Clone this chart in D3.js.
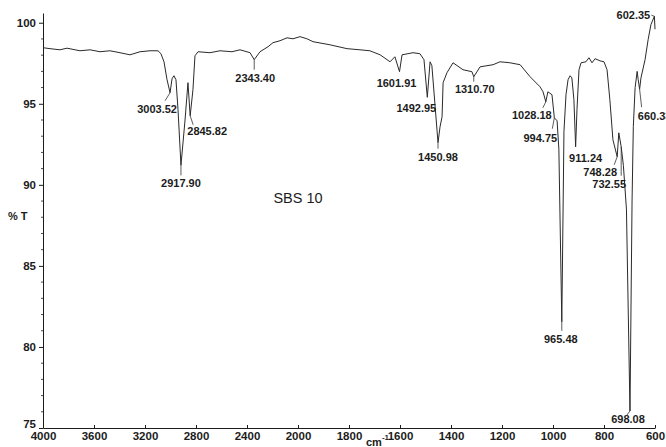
<!DOCTYPE html>
<html>
<head>
<meta charset="utf-8">
<script src="https://cdn.jsdelivr.net/npm/d3@7/dist/d3.min.js"></script>
<style>
  html, body { margin: 0; padding: 0; background: #fff; }
  svg { display: block; }
  text { font-family: "Liberation Sans", Arial, sans-serif; fill: #1c1c1c; }
</style>
</head>
<body>
<svg id="chart" width="666" height="447"></svg>
<script>
// FT-IR transmittance spectrum of sample SBS 10

// wavenumber (cm-1) and transmittance (%T), read from high to low wavenumber
const wavenumbers = [
  4000, 3945, 3867, 3812, 3710, 3631, 3553, 3475, 3396, 3318, 3239, 3161, 3098, 3075, 3051, 3027,
  3003.52, 2988, 2973, 2957, 2941, 2917.90, 2886, 2863, 2845.82, 2824, 2808, 2784, 2690, 2612,
  2518, 2455, 2376, 2343.40, 2298, 2235, 2196, 2141, 2086, 2039, 1992, 1965, 1941, 1875, 1808,
  1757, 1718, 1678, 1639, 1620, 1601.91, 1592, 1549, 1522, 1506, 1492.95, 1482, 1475, 1450.98,
  1443, 1435, 1431, 1416, 1392, 1353, 1318, 1310.70, 1286, 1235, 1208, 1169, 1129, 1090, 1051,
  1039, 1028.18, 1020, 1004, 994.75, 984, 977, 965.48, 957, 949, 941, 933, 926, 918, 911.24, 906,
  898, 890, 871, 859, 847, 835, 816, 800, 788, 777, 765, 748.28, 742, 732.55, 724, 712, 698.08,
  690, 685, 678, 670, 666, 660.33, 655, 639, 627, 616, 602.35, 600
];
const transmittance = [
  98.46, 98.40, 98.33, 98.43, 98.27, 98.33, 98.21, 98.27, 98.15, 98.02, 98.21, 98.27, 98.27, 98.09, 97.59, 96.48,
  95.68, 96.54, 96.73, 96.48, 94.63, 91.20, 94.00, 96.30, 94.26, 95.86, 97.96, 98.21, 98.15, 98.27,
  98.21, 98.33, 98.15, 97.72, 98.21, 98.52, 98.77, 98.89, 99.07, 99.01, 99.14, 99.01, 98.83, 98.64, 98.40,
  98.33, 98.27, 98.02, 97.59, 97.90, 96.98, 98.02, 98.15, 98.09, 97.72, 95.40, 97.59, 97.35, 92.60,
  93.58, 94.20, 96.30, 96.91, 97.53, 97.10, 96.98, 96.67, 97.28, 97.41, 97.59, 97.53, 97.41, 96.67, 96.05,
  95.74, 95.12, 95.74, 95.56, 94.14, 93.95, 92.20, 81.55, 93.30, 95.56, 96.48, 96.73, 96.60, 95.25, 92.35, 94.63,
  97.10, 97.53, 97.59, 97.84, 97.53, 97.78, 97.65, 97.59, 97.10, 95.25, 92.78, 91.73, 93.21, 92.35, 91.20, 88.50, 76.05,
  89.00, 93.60, 96.00, 97.00, 96.50, 95.90, 96.60, 97.72, 98.95, 99.88, 100.40, 99.60
];

// labelled band positions (cm-1)
const peakLabels = [
  3003.52, 2917.90, 2845.82, 2343.40, 1601.91, 1492.95, 1450.98, 1310.70,
  1028.18, 994.75, 965.48, 911.24, 748.28, 732.55, 698.08, 660.33, 602.35
];

const xTickValues = [4000, 3600, 3200, 2800, 2400, 2000, 1800, 1600, 1400, 1200, 1000, 800, 600];
const yTickValues = [75, 80, 85, 90, 95, 100];

const sampleName = "SBS 10";
const xTitle = "cm";
const xTitleSup = "-1";
const yTitle = "% T";

const svg = d3.select("#chart");
const ink = "#1c1c1c";

// the instrument plot expands the fingerprint region: 4000-2000 and 2000-600 share the same tick spacing
const x = d3.scaleLinear().domain([4000, 2000, 600]).range([43, 298, 655]);
const y = d3.scaleLinear().domain([75, 100.6]).range([428, 13]);

const spectrum = wavenumbers.map((w, i) => ({ w, t: transmittance[i] }));
const lookup = new Map(spectrum.map(d => [d.w, d.t]));

// Y axis
const yAxis = svg.append("g")
  .attr("transform", `translate(${x(4000)},0)`)
  .call(d3.axisLeft(y).tickValues(yTickValues).tickSize(4).tickSizeOuter(0).tickPadding(3)
    .tickFormat(d3.format("d")));
yAxis.selectAll("text").style("font-size", "11.5px").style("font-weight", "bold").attr("fill", ink);
yAxis.selectAll("line, path").attr("stroke", ink);
// the bottom label sits on the corner, just above the x tick labels
yAxis.selectAll(".tick").filter(d => d === 75).select("text").attr("dy", "-0.05em");

// minor ticks every 1 %T
svg.append("g").selectAll("line")
  .data(d3.range(76, 101).filter(v => v % 5 !== 0))
  .join("line")
  .attr("x1", x(4000) - 2).attr("x2", x(4000))
  .attr("y1", d => y(d)).attr("y2", d => y(d))
  .attr("stroke", ink).attr("stroke-width", 0.8);

// X axis
const xAxis = svg.append("g")
  .attr("transform", `translate(0,${y(75)})`)
  .call(d3.axisBottom(x).tickValues(xTickValues).tickSize(-3).tickSizeOuter(0).tickPadding(4)
    .tickFormat(d3.format("d")));
xAxis.selectAll("text").style("font-size", "11.5px").style("font-weight", "bold").attr("fill", ink);
xAxis.selectAll("line, path").attr("stroke", ink);

// axis titles
svg.append("text").attr("x", 8).attr("y", 220)
  .style("font-size", "11px").style("font-weight", "bold").text(yTitle);
const xt = svg.append("text").attr("x", 366).attr("y", 446)
  .style("font-size", "11px").style("font-weight", "bold");
xt.append("tspan").text(xTitle);
xt.append("tspan").attr("dy", -6).style("font-size", "8px").text(xTitleSup);

// sample name
svg.append("text").attr("x", 298).attr("y", 203).attr("text-anchor", "middle")
  .style("font-size", "14.5px").text(sampleName);

// spectrum trace
svg.append("path")
  .datum(spectrum)
  .attr("fill", "none")
  .attr("stroke", "#2a2a2a")
  .attr("stroke-width", 1)
  .attr("stroke-linejoin", "round")
  .attr("d", d3.line().x(d => x(d.w)).y(d => y(d.t)));

// label placement relative to each band tip: text centre offset and leader end offset (px)
const labelLayout = {
  "3003.52": { tx: -13, ty: 16, lx: -5, ly: 8 },
  "2917.90": { tx: 0, ty: 18, lx: 0, ly: 10 },
  "2845.82": { tx: 17, ty: 15, lx: 3, ly: 9 },
  "2343.40": { tx: 1, ty: 18, lx: 0, ly: 10 },
  "1601.91": { tx: -3, ty: 11, lx: 0, ly: 0 },
  "1492.95": { tx: -11, ty: 11, lx: 0, ly: 0 },
  "1450.98": { tx: 0, ty: 14, lx: 0, ly: 6 },
  "1310.70": { tx: 1, ty: 12, lx: 0, ly: 5 },
  "1028.18": { tx: -14, ty: 13, lx: -3, ly: 6 },
  "994.75": { tx: -14, ty: 20, lx: -2, ly: 11 },
  "965.48": { tx: -1, ty: 17, lx: 0, ly: 9 },
  "911.24": { tx: 10, ty: 11, lx: 0, ly: 0 },
  "748.28": { tx: -17, ty: 15, lx: -3, ly: 8 },
  "732.55": { tx: -12, ty: 37, lx: 0, ly: 29 },
  "698.08": { tx: -2, ty: 8, lx: -3, ly: 4 },
  "660.33": { tx: 15, ty: 27, lx: 2, ly: 18 },
  "602.35": { tx: -21, ty: -1, lx: -3, ly: -1 }
};

const fmt = d3.format(".2f");
const labels = svg.append("g");
peakLabels.forEach(w => {
  const key = fmt(w);
  const L = labelLayout[key];
  const px = x(w), py = y(lookup.get(w));
  if (L.lx !== 0 || L.ly !== 0) {
    labels.append("line")
      .attr("x1", px).attr("y1", py)
      .attr("x2", px + L.lx).attr("y2", py + L.ly)
      .attr("stroke", "#333").attr("stroke-width", 0.8);
  }
  labels.append("text")
    .attr("x", px + L.tx).attr("y", py + L.ty)
    .attr("dy", "0.35em")
    .attr("text-anchor", "middle")
    .style("font-size", "11px").style("font-weight", "bold")
    .text(key);
});
</script>
</body>
</html>
